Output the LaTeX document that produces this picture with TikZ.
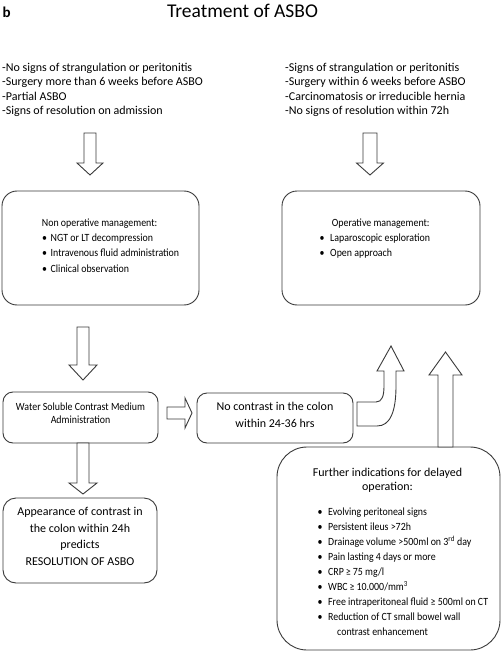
\documentclass[tikz,border=0pt]{standalone}
\usepackage{fontspec}
\setmainfont{Carlito}
\newfontfamily\cnd[FakeStretch=0.9]{Carlito}
\definecolor{lc}{HTML}{3A3A3A}
\newcommand\bul[1]{\makebox[#1][l]{\textbullet}}
\newcommand\vblock[6]{% x, ytail, ybase, ytip, shaft half, head half
  \draw[blk] ({#1-#5},#2) -- ({#1-#5},#3) -- ({#1-#6},#3) -- (#1,#4) -- ({#1+#6},#3) -- ({#1+#5},#3) -- ({#1+#5},#2) -- cycle;}
\newcommand\hblock[6]{% y, xtail, xbase, xtip, shaft half, head half
  \draw[blk] (#2,{#1-#5}) -- (#3,{#1-#5}) -- (#3,{#1-#6}) -- (#4,#1) -- (#3,{#1+#6}) -- (#3,{#1+#5}) -- (#2,{#1+#5}) -- cycle;}
\begin{document}
\begin{tikzpicture}[x=1pt,y=-1pt,
  box/.style={draw=lc, line width=0.9pt, rounded corners=#1, inner sep=0pt},
  blk/.style={draw=lc, line width=0.9pt, fill=white, line join=miter},
  tl/.style={inner sep=0pt, anchor=base west, font=\fontsize{12}{14}\selectfont},
  tc/.style={inner sep=0pt, anchor=base, font=\fontsize{12}{14}\selectfont},
  bl/.style={inner sep=0pt, anchor=base west, font=\cnd\fontsize{11}{13}\selectfont},
  bc/.style={inner sep=0pt, anchor=base, font=\cnd\fontsize{11}{13}\selectfont},
]
\useasboundingbox (0,0) rectangle (502,655);
\fill[white] (0,0) rectangle (502,655);

% heading
\node[inner sep=0pt, anchor=base west, font=\bfseries\fontsize{15}{18}\selectfont] (lab) at (2.5,17.5) {b};
\node[inner sep=0pt, anchor=base, font=\fontsize{19.5}{22}\selectfont] (title) at (242.5,17.5) {Treatment of ASBO};

% criteria lists
\foreach \t [count=\i] in {-No signs of strangulation or peritonitis, -Surgery more than 6 weeks before ASBO, -Partial ASBO, -Signs of resolution on admission}
  \node[tl] (L\i) at (2, {71.5+(\i-1)*14.3}) {\t};
\foreach \t [count=\i] in {-Signs of strangulation or peritonitis, -Surgery within 6 weeks before ASBO, -Carcinomatosis or irreducible hernia, -No signs of resolution within 72h}
  \node[tl] (R\i) at (285, {71.5+(\i-1)*14.3}) {\t};

% boxes
\node[box=15pt, minimum width=197pt, minimum height=114pt] (nonop) at (100.5,248) {};
\node[box=15pt, minimum width=198pt, minimum height=114pt] (op) at (381,248) {};
\node[box=10pt, minimum width=155pt, minimum height=51pt] (water) at (80.5,417.5) {};
\node[box=10pt, minimum width=156pt, minimum height=50pt] (nocon) at (275,418) {};
\node[box=13pt, minimum width=154pt, minimum height=85pt] (appear) at (80,540.5) {};
\node[box=30pt, minimum width=223pt, minimum height=203pt] (further) at (388.5,548.5) {};

% non operative text
\node[bl] (nh) at (41.7,226) {Non operative management:};
\foreach \t [count=\i] in {NGT or LT decompression, Intravenous fluid administration, Clinical observation}
  \node[bl] (nb\i) at (42, {241.5+(\i-1)*15.3}) {\bul{8.5pt}\t};

% operative text
\node[bl] (oh) at (331.7,226) {Operative management:};
\foreach \t [count=\i] in {Laparoscopic esploration, Open approach}
  \node[bl] (ob\i) at (319.5, {241.5+(\i-1)*15.3}) {\bul{10.5pt}\t};

% water soluble
\node[bc] (w1) at (80.5,410) {Water Soluble Contrast Medium};
\node[bc] (w2) at (80.5,423) {Administration};

% no contrast
\node[tc] (n1) at (275,410.5) {No contrast in the colon};
\node[tc] (n2) at (275,427) {within 24-36 hrs};

% appearance
\foreach \t [count=\i] in {Appearance of contrast in, the colon within 24h, predicts, RESOLUTION OF ASBO}
  \node[tc] (a\i) at (80, {515.5+(\i-1)*16.6}) {\t};

% further indications
\node[tc] (fh1) at (387.5,476) {Further indications for delayed};
\node[tc] (fh2) at (387.5,490) {operation:};
\foreach \t [count=\i] in {Evolving peritoneal signs, Persistent ileus >72h, Drainage volume >500ml on 3\textsuperscript{rd} day, Pain lasting 4 days or more, CRP\,≥ 75 mg/l, WBC\,≥ 10.000/mm\textsuperscript{3}, Free intraperitoneal fluid ≥ 500ml on CT, Reduction of CT small bowel wall}
  \node[bl] (fb\i) at (317.5, {515+(\i-1)*15}) {\bul{10.5pt}\t};
\node[bl] (fb9) at (337,635) {contrast enhancement};

% block arrows
\vblock{90}{133}{163}{175}{6}{13}
\vblock{370}{133}{163}{175}{7}{13.5}
\vblock{83}{327}{365}{380}{6}{14}
\vblock{83}{443}{483}{494}{6}{14}
\hblock{413}{167}{185}{192}{6}{15}
\vblock{445.5}{447}{375}{352}{7.5}{16.5}
\draw[blk] (357,402) -- (376,402) .. controls (382,402) and (384,396) .. (384,386)
  -- (384,371) -- (377,371) -- (391,346) -- (404,371) -- (396,371) -- (396,386)
  .. controls (396,412) and (390,426) .. (377,426) -- (357,426) -- cycle;
\end{tikzpicture}
\end{document}
